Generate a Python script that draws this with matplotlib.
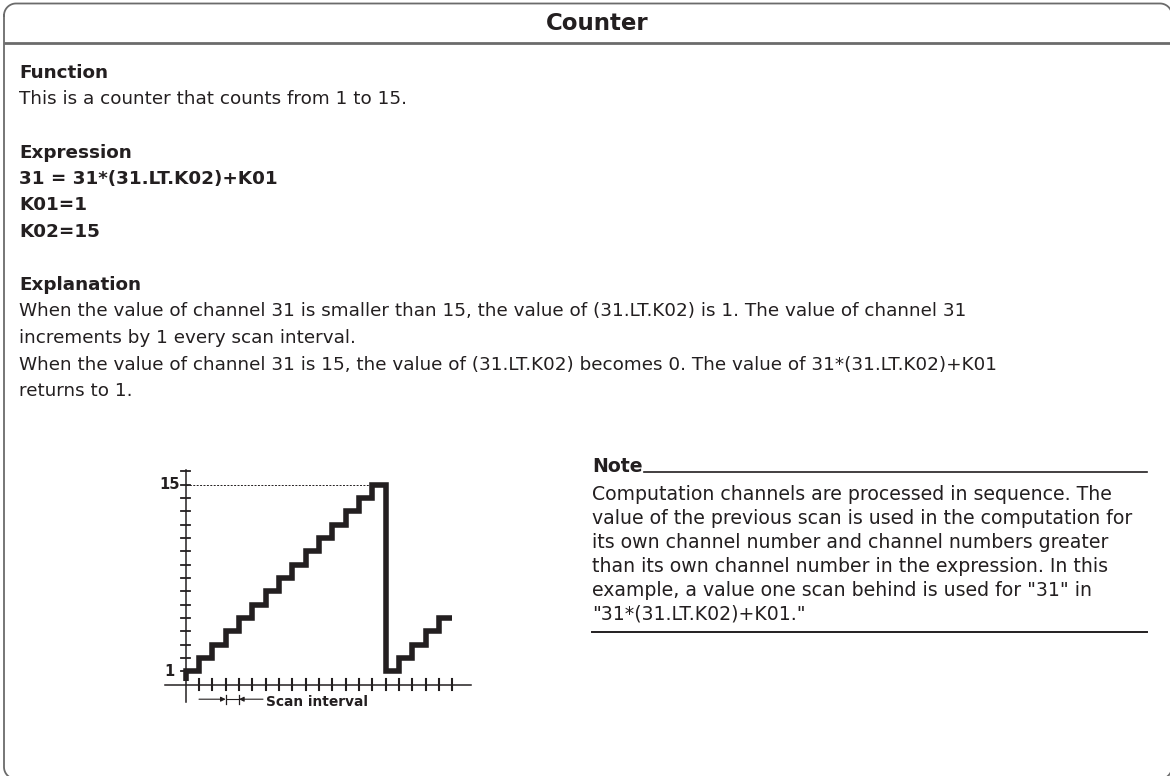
import numpy as np
import matplotlib.pyplot as plt

# step chart data: value of channel 31 on each scan interval
scan_edges = [0, 1, 2, 3, 4, 5, 6, 7, 8, 9, 10, 11, 12, 13, 14, 15, 16, 17, 18, 19, 20]
counts = [1, 2, 3, 4, 5, 6, 7, 8, 9, 10, 11, 12, 13, 14, 15, 1, 2, 3, 4, 5]
y_ticks = [1, 2, 3, 4, 5, 6, 7, 8, 9, 10, 11, 12, 13, 14, 15, 16]
x_ticks = [1, 2, 3, 4, 5, 6, 7, 8, 9, 10, 11, 12, 13, 14, 15, 16, 17, 18, 19, 20]
y_labels = {1: "1", 15: "15"}

body_lines = [
    ("Function", "bold"),
    ("This is a counter that counts from 1 to 15.", "normal"),
    ("", "normal"),
    ("Expression", "bold"),
    ("31 = 31*(31.LT.K02)+K01", "bold"),
    ("K01=1", "bold"),
    ("K02=15", "bold"),
    ("", "normal"),
    ("Explanation", "bold"),
    ("When the value of channel 31 is smaller than 15, the value of (31.LT.K02) is 1. The value of channel 31", "normal"),
    ("increments by 1 every scan interval.", "normal"),
    ("When the value of channel 31 is 15, the value of (31.LT.K02) becomes 0. The value of 31*(31.LT.K02)+K01", "normal"),
    ("returns to 1.", "normal"),
]
note_lines = [
    "Computation channels are processed in sequence. The",
    "value of the previous scan is used in the computation for",
    "its own channel number and channel numbers greater",
    "than its own channel number in the expression. In this",
    "example, a value one scan behind is used for \"31\" in",
    "\"31*(31.LT.K02)+K01.\"",
]

ink = '#231f20'
frame_col = '#6b6b6b'
plt.rcParams['font.family'] = ['DejaVu Sans']

fig = plt.figure(figsize=(11.7, 7.76), dpi=100, facecolor='white')

# page layer in pixel coordinates (y down)
bg = fig.add_axes([0, 0, 1, 1])
bg.set_xlim(0, 1170)
bg.set_ylim(776, 0)
bg.axis('off')

# rounded outer frame, right and bottom edges run just off the page
def corner(cx, cy, r, a0, a1):
    a = np.linspace(np.radians(a0), np.radians(a1), 20)
    return cx + r * np.cos(a), cy + r * np.sin(a)

L, T, R, B, rad = 4, 3.5, 1172, 779, 12
px, py = [], []
for cx, cy, a0, a1 in [(L + rad, T + rad, 180, 270), (R - rad, T + rad, 270, 360),
                       (R - rad, B - rad, 0, 90), (L + rad, B - rad, 90, 180)]:
    xx, yy = corner(cx, cy, rad, a0, a1)
    px.extend(xx)
    py.extend(yy)
px.append(px[0])
py.append(py[0])
bg.plot(px, py, color=frame_col, lw=1.3)

bg.plot([4, 1170], [42.7, 42.7], color=frame_col, lw=2.0, solid_capstyle='butt')
bg.text(597, 23, "Counter", ha='center', va='center', fontsize=16.5,
        fontweight='bold', color=ink)

y0 = 73
for i, (s, w) in enumerate(body_lines):
    bg.text(19, y0 + 26.5 * i, s, ha='left', va='center', fontsize=13.2,
            fontweight=w, color=ink)

# note box
bg.text(592, 466, "Note", ha='left', va='center', fontsize=13.6,
        fontweight='bold', color=ink)
bg.plot([644, 1147], [472, 472], color=ink, lw=1.2)
for i, s in enumerate(note_lines):
    bg.text(592, 494 + 24 * i, s, ha='left', va='center', fontsize=13.6,
            color=ink)
bg.plot([592, 1147], [632, 632], color=ink, lw=1.4)

# chart
ax = fig.add_axes([0.1359, 0.0835, 0.2735, 0.3265])
ax.set_xlim(-2, 22)
ax.set_ylim(-2, 17)
ax.axis('off')

ax.plot([-1.55, 21.4], [0, 0], color=ink, lw=1.1)
ax.plot([0, 0], [-1.3, 16.1], color=ink, lw=1.1)
for t in y_ticks:
    ax.plot([-0.33, 0.33], [t, t], color=ink, lw=1.3)
for t in x_ticks:
    ax.plot([t, t], [-0.4, 0.4], color=ink, lw=1.5)
for v, lab in y_labels.items():
    xr = -0.45 if v == 15 else -0.85
    ax.text(xr, v, lab, ha='right', va='center', fontsize=10.5,
            fontweight='bold', color=ink)

ax.plot([0, 14], [15, 15], color=ink, lw=0.7, dashes=(2, 1.5))

xs = [scan_edges[0]] + scan_edges
ys = [0.25] + counts + [counts[-1]]
ax.plot(xs, ys, drawstyle='steps-post', color=ink, lw=4.0,
        solid_joinstyle='miter', solid_capstyle='butt')

# scan interval marker
ay = -1.1
ax.annotate("", xy=(3, ay), xytext=(1, ay),
            arrowprops=dict(arrowstyle='-|>', color=ink, lw=0.8,
                            mutation_scale=7, shrinkA=0, shrinkB=0))
ax.annotate("", xy=(4, ay), xytext=(5.8, ay),
            arrowprops=dict(arrowstyle='-|>', color=ink, lw=0.8,
                            mutation_scale=7, shrinkA=0, shrinkB=0))
ax.plot([3, 4], [ay, ay], color=ink, lw=0.8)
for bx in (3, 4):
    ax.plot([bx, bx], [-0.78, -1.45], color=ink, lw=0.9)
ax.text(6.0, -1.33, "Scan interval", ha='left', va='center', fontsize=9.9,
        fontweight='bold', color=ink)

fig.savefig('out.png', dpi=100, facecolor='white')
